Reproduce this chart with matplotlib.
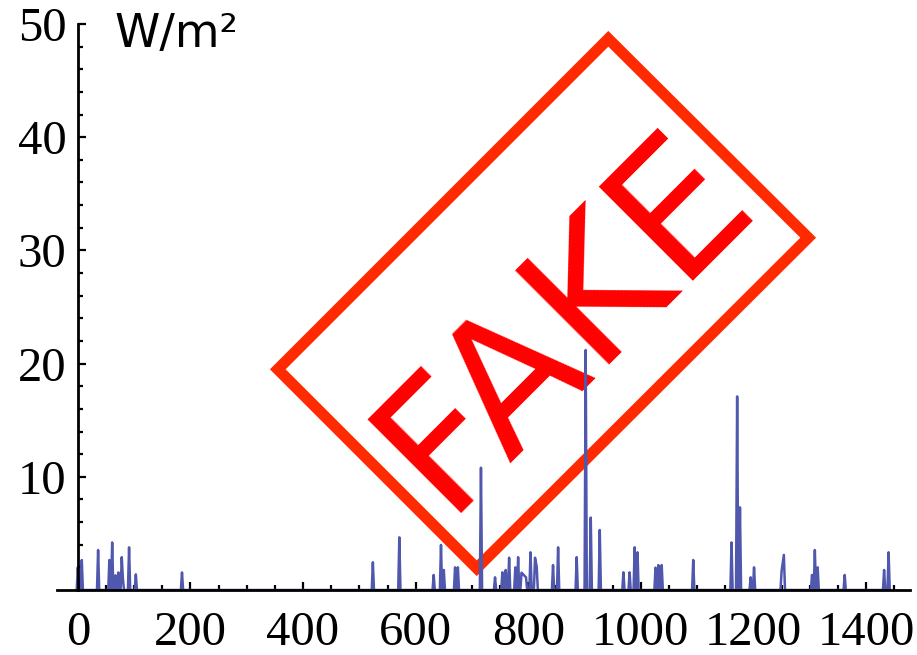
import numpy as np
import matplotlib
matplotlib.use("Agg")
import matplotlib.pyplot as plt
from matplotlib.patches import Polygon
from matplotlib.ticker import FixedLocator

# minute of the day and irradiance of each burst (W/m^2); zero elsewhere
peak_t = [0, 7, 36, 56, 61, 67, 72, 78, 80, 91, 103, 185,
          524, 571, 632, 645, 650, 670, 675, 716, 741, 754, 760, 766,
          777, 782, 788, 792, 796, 804, 812, 815, 844, 853, 886, 902,
          911, 927, 969, 980, 989, 994, 1026, 1031, 1037, 1093, 1161,
          1171, 1176, 1195, 1201, 1250, 1254, 1304, 1309, 1314, 1362,
          1432, 1440]
peak_w = [2.0, 2.65, 3.53, 2.65, 4.2, 1.3, 1.55, 2.9, 1.05, 3.77, 1.38, 1.55,
          2.45, 4.65, 1.33, 3.98, 1.77, 2.0, 2.0, 10.8, 1.12, 1.56, 1.77, 2.85,
          2.0, 2.9, 1.53, 1.33, 1.12, 3.33, 2.85, 2.06, 2.2, 3.77, 2.9, 21.2,
          6.4, 5.3, 1.56, 1.56, 3.77, 3.33, 1.97, 2.2, 2.2, 2.65, 4.2,
          17.1, 7.3, 1.12, 2.0, 1.7, 3.1, 1.33, 3.53, 2.0, 1.33,
          1.77, 3.33]

x_ticks = [0, 200, 400, 600, 800, 1000, 1200, 1400]
y_ticks = [10, 20, 30, 40, 50]
unit = "W/m²"
stamp = "FAKE"

W, H = 917, 655


def fx(px):
    return px / W


def fy(py):
    return 1 - py / H


# spikes sit on a zero baseline
xs, ys = [], []
n = len(peak_t)
for i in range(n):
    t, v = peak_t[i], peak_w[i]
    if i == 0 or t - peak_t[i - 1] > 4:
        xs.append(t - 2)
        ys.append(0)
    xs.append(t)
    ys.append(v)
    if i == n - 1 or peak_t[i + 1] - t > 4:
        xs.append(t + 2)
        ys.append(0)

fig = plt.figure(figsize=(W / 100, H / 100), dpi=100)
ax = fig.add_axes([fx(57), 65 / H, 853 / W, 566 / H])
ax.plot(xs, ys, color="#5058ae", lw=1.8, zorder=3)

ax.set_xlim(-37, 1478)
ax.set_ylim(0, 50)
for s in ("top", "right"):
    ax.spines[s].set_visible(False)
ax.spines["left"].set_position(("data", 0))
ax.spines["left"].set_bounds(0, 50)
for s in ("left", "bottom"):
    ax.spines[s].set_linewidth(2)
    ax.spines[s].set_zorder(4)

ax.xaxis.set_major_locator(FixedLocator(x_ticks))
ax.xaxis.set_minor_locator(FixedLocator([m for m in range(50, 1500, 50) if m % 200]))
ax.yaxis.set_major_locator(FixedLocator(y_ticks))
ax.yaxis.set_minor_locator(FixedLocator([m for m in range(2, 50, 2) if m % 10]))
ax.tick_params(which="both", direction="in", width=1.6, colors="black")
ax.tick_params(which="major", length=6)
ax.tick_params(which="minor", length=3.5)
ax.tick_params(axis="x", which="major", pad=15)
ax.tick_params(axis="y", which="major", pad=8)
for lab in ax.get_xticklabels() + ax.get_yticklabels():
    lab.set_family("Liberation Serif")
    lab.set_fontsize(35)

fig.text(fx(114), fy(47), unit, fontsize=33, family="DejaVu Sans",
         va="baseline", ha="left")

# stamp frame, rotated 45 degrees
frame = [(271, 371), (610, 32), (815, 236), (475, 575)]
cx = sum(p[0] for p in frame) / 4
cy = sum(p[1] for p in frame) / 4
inset = [(cx + (x - cx) * 0.975, cy + (y - cy) * 0.975) for x, y in frame]
ax.add_patch(Polygon([(fx(x), fy(y)) for x, y in inset], closed=True,
                     fill=False, edgecolor="#ff2a00", lw=8,
                     joinstyle="miter", transform=fig.transFigure,
                     clip_on=False, zorder=1))
ax.text(fx(600), fy(356), stamp, fontsize=130, family="DejaVu Sans",
        color="#ff0000", rotation=45, rotation_mode="anchor",
        ha="center", va="baseline", transform=fig.transFigure, zorder=1)

fig.savefig("out.png", dpi=100)
